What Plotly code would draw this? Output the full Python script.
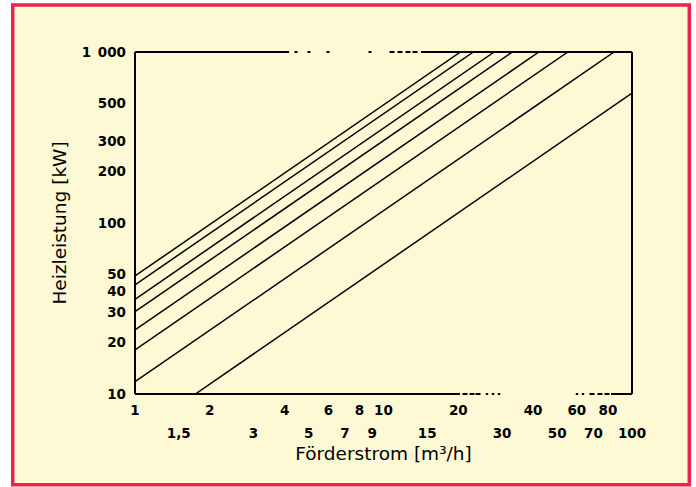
import plotly.graph_objects as go

# ---- data ----
# each line: start and end points (Förderstrom m³/h, Heizleistung kW)
line_x = [
    [1, 20.4],
    [1, 23.0],
    [1, 27.9],
    [1, 33.0],
    [1, 42.2],
    [1, 55.2],
    [1, 84.7],
    [1.75, 100],
]
line_y = [
    [49.0, 1000],
    [43.5, 1000],
    [35.8, 1000],
    [30.3, 1000],
    [23.7, 1000],
    [18.1, 1000],
    [11.8, 1000],
    [10.0, 575],
]

x_ticks_row1 = [1, 2, 4, 6, 8, 10, 20, 40, 60, 80]
x_text_row1 = ["1", "2", "4", "6", "8", "10", "20", "40", "60", "80"]
x_ticks_row2 = [1.5, 3, 5, 7, 9, 15, 30, 50, 70, 100]
x_text_row2 = ["1,5", "3", "5", "7", "9", "15", "30", "50", "70", "100"]
y_ticks = [10, 20, 30, 40, 50, 100, 200, 300, 500, 1000]
y_text = ["10", "20", "30", "40", "50", "100", "200", "300", "500", "1\u2002000"]

x_title = "Förderstrom [m³/h]"
y_title = "Heizleistung [kW]"

# ---- styling ----
W, H = 696, 487
L, R, T, B = 135, 64, 52, 93
PW, PH = W - L - R, H - T - B
BG = "#FEF9D5"
RED = "#E8234F"
TICKFONT = dict(family="DejaVu Sans", size=13.5, color="black", weight="bold")
TITLEFONT = dict(family="DejaVu Sans", size=18.5, color="black")


def px(x):
    return (x - L) / PW


def py(y):
    return (H - B - y) / PH


fig = go.Figure()
for xs, ys in zip(line_x, line_y):
    fig.add_trace(go.Scatter(x=xs, y=ys, mode="lines",
                             line=dict(color="black", width=1.5),
                             showlegend=False, hoverinfo="skip"))
# invisible trace for the second tick row axis
fig.add_trace(go.Scatter(x=[1, 100], y=[10, 10], xaxis="x2", mode="lines",
                         line=dict(width=0), showlegend=False, hoverinfo="skip"))

shapes = []
# outer red frame with yellow fill
shapes.append(dict(type="rect", xref="paper", yref="paper",
                   x0=px(12.7), x1=px(689.3), y0=py(484.7), y1=py(5),
                   line=dict(color=RED, width=3.5), fillcolor=BG, layer="below"))


def seg(x0, y0, x1, y1, dash="solid", w=2):
    shapes.append(dict(type="line", xref="paper", yref="paper",
                       x0=px(x0), x1=px(x1), y0=py(y0), y1=py(y1),
                       line=dict(color="black", width=w, dash=dash)))


top, bot, lft, rgt = 52, 394, 135, 632
seg(lft, top, lft, bot)
seg(rgt, top, rgt, bot)
# top border (broken in the original print)
seg(lft, top, 289, top)
for d in [296, 309, 328, 370]:
    seg(d - 1.5, top, d + 1.5, top)
for d in [392, 400, 408, 415]:
    seg(d - 2.5, top, d + 2.5, top)
seg(421, top, rgt, top)
# bottom border
seg(lft, bot, 460, bot)
for d in [465, 472, 478]:
    seg(d - 2.5, bot, d + 2.5, bot)
for d in [487, 493, 499, 577, 583]:
    seg(d - 1.2, bot, d + 1.2, bot)
for d in [592, 600, 607]:
    seg(d - 2.5, bot, d + 2.5, bot)
seg(611, bot, rgt, bot)

fig.update_layout(
    width=W, height=H,
    margin=dict(l=L, r=R, t=T, b=B, autoexpand=False),
    paper_bgcolor="white",
    plot_bgcolor="rgba(0,0,0,0)",
    showlegend=False,
    shapes=shapes,
    xaxis=dict(type="log", range=[0, 2], showgrid=False, zeroline=False,
               showline=False, ticks="", tickvals=x_ticks_row1,
               ticktext=x_text_row1, tickfont=TICKFONT,
               ticklabelstandoff=6, automargin=False),
    xaxis2=dict(type="log", range=[0, 2], overlaying="x", anchor="y",
                side="bottom", showgrid=False, zeroline=False, showline=False,
                ticks="", tickvals=x_ticks_row2, ticktext=x_text_row2,
                tickfont=TICKFONT, ticklabelstandoff=29, automargin=False,
                title=dict(text=x_title, font=TITLEFONT, standoff=7)),
    yaxis=dict(type="log", range=[1, 3], showgrid=False, zeroline=False,
               showline=False, ticks="", tickvals=y_ticks, ticktext=y_text,
               tickfont=TICKFONT, ticklabelstandoff=8, automargin=False,
               title=dict(text=y_title, font=TITLEFONT, standoff=10)),
)

fig.write_html("out.html")
